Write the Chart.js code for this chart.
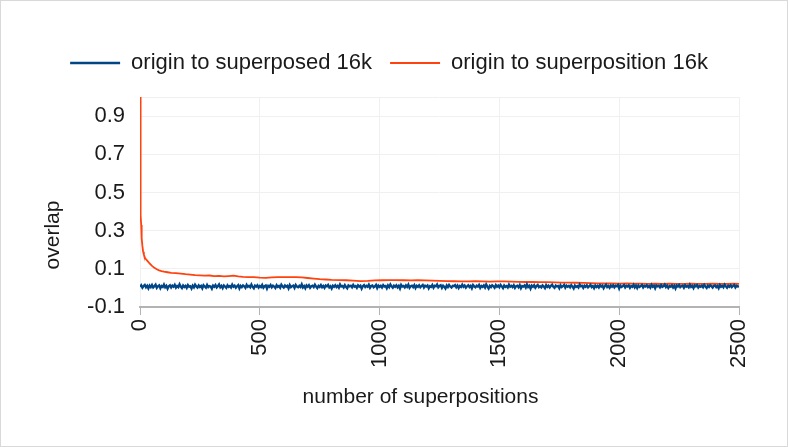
<!DOCTYPE html>
<html>
<head>
<meta charset="utf-8">
<script src="https://cdn.jsdelivr.net/npm/chart.js@4"></script>
<style>
html,body{margin:0;padding:0;background:#fff;}
#wrap{width:788px;height:447px;box-sizing:border-box;border:1px solid #d9d9d9;background:#fff;}
canvas{display:block;}
</style>
</head>
<body>
<div id="wrap"><canvas id="c" width="786" height="445"></canvas></div>
<script>
const seriesNames = ["origin to superposed 16k", "origin to superposition 16k"];
const xTitle = "number of superpositions";
const yTitle = "overlap";
const xTicks = [0, 500, 1000, 1500, 2000, 2500];
const yTicks = [-0.1, 0.1, 0.3, 0.5, 0.7, 0.9];

// series 1: sampled every 5 superpositions (0..2500)
const superposedStep = 5;
const superposedY = [
0.006,0.014,0.001,0.010,0.016,0.003,0.011,-0.003,0.012,0.004,
0.015,0.002,0.009,0.017,0.000,0.008,0.013,-0.002,0.010,0.005,
0.018,0.003,0.011,-0.004,0.009,0.014,0.002,0.012,0.006,0.016,
0.001,0.010,0.004,0.019,0.007,-0.001,0.013,0.005,0.011,0.000,
0.015,0.006,0.009,-0.003,0.012,0.003,0.017,0.008,0.002,0.013,
0.005,0.011,-0.002,0.014,0.007,0.001,0.016,0.004,0.010,0.008,
-0.004,0.012,0.006,0.015,0.002,0.009,0.018,0.003,0.011,-0.001,
0.013,0.007,0.000,0.014,0.005,0.010,0.002,0.017,0.006,0.012,
0.001,0.009,0.015,-0.003,0.011,0.004,0.013,0.008,0.000,0.016,
0.006,0.011,0.003,0.018,0.005,-0.002,0.012,0.007,0.014,0.002,
0.010,0.004,0.016,0.001,0.009,0.013,-0.004,0.011,0.006,0.015,
0.003,0.012,0.007,-0.001,0.014,0.005,0.010,0.001,0.017,0.008,
0.002,0.013,0.006,0.011,-0.003,0.015,0.004,0.009,0.012,0.000,
0.016,0.007,0.003,0.011,0.005,0.019,0.002,0.010,-0.002,0.013,
0.006,0.014,0.001,0.009,0.012,0.004,0.017,0.007,-0.001,0.011,
0.005,0.015,0.003,0.010,0.000,0.013,0.008,0.016,0.002,0.009,
-0.003,0.012,0.006,0.014,0.004,0.011,0.001,0.018,0.007,0.010,
0.002,0.015,0.005,-0.002,0.013,0.008,0.011,0.003,0.016,0.006,
0.010,0.000,0.014,0.007,0.012,-0.004,0.009,0.015,0.004,0.011,
0.006,0.017,0.001,0.010,0.013,0.003,0.008,0.016,-0.001,0.012,
0.005,0.011,0.002,0.015,0.007,0.010,-0.002,0.013,0.004,0.018,
0.008,0.001,0.012,0.006,0.014,0.003,0.011,-0.003,0.016,0.007,
0.010,0.002,0.013,0.005,0.017,0.000,0.009,0.012,0.004,0.015,
-0.001,0.011,0.006,0.014,0.003,0.010,0.016,0.002,0.012,0.007,
0.013,-0.002,0.009,0.005,0.015,0.001,0.011,0.008,0.018,0.003,
0.010,0.014,0.000,0.012,0.006,-0.003,0.013,0.004,0.016,0.007,
0.002,0.011,0.009,0.015,0.003,0.012,-0.001,0.010,0.005,0.017,
0.006,0.013,0.001,0.009,0.014,0.004,0.011,-0.002,0.015,0.008,
0.003,0.012,0.007,0.016,0.000,0.010,0.005,0.013,0.002,0.018,
0.007,-0.003,0.011,0.004,0.014,0.009,0.001,0.015,0.006,0.012,
0.003,0.016,0.008,-0.001,0.013,0.005,0.010,0.002,0.017,0.006,
0.011,0.004,0.014,0.000,0.009,0.012,0.003,0.015,-0.002,0.010,
0.007,0.013,0.002,0.018,0.005,0.011,-0.004,0.012,0.006,0.014,
0.001,0.010,0.016,0.004,0.009,0.003,0.013,0.007,-0.001,0.015,
0.005,0.012,0.002,0.011,0.017,0.006,0.000,0.013,0.008,0.010,
-0.002,0.014,0.004,0.009,0.016,0.001,0.012,0.006,0.011,0.003,
0.015,0.007,-0.003,0.013,0.005,0.010,0.002,0.018,0.008,0.011,
0.000,0.012,0.006,0.014,0.003,0.009,0.016,0.004,0.010,-0.001,
0.013,0.005,0.011,0.002,0.015,0.007,0.012,-0.002,0.009,0.017,
0.004,0.010,0.001,0.013,0.006,0.014,0.003,0.011,0.008,0.016,
-0.003,0.012,0.005,0.009,0.015,0.002,0.011,0.007,0.014,0.000,
0.010,0.006,0.017,0.003,0.012,-0.001,0.013,0.005,0.009,0.015,
0.002,0.011,0.007,0.014,0.004,0.010,0.001,0.016,0.006,0.012,
-0.002,0.013,0.008,0.011,0.003,0.015,0.005,0.009,0.018,0.004,
0.012,0.000,0.010,0.006,0.014,0.002,0.011,-0.003,0.013,0.007,
0.016,0.004,0.009,0.012,0.001,0.014,0.006,0.010,0.003,0.017,
0.005,0.011,-0.001,0.013,0.008,0.015,0.002,0.010,0.006,0.012,
0.003,0.016,0.007,0.000,0.012,0.005,0.014,0.009,0.002,0.011,
0.013,0.004,0.010,-0.002,0.015,0.006,0.011,0.003,0.017,0.008,
0.001,0.012,0.006,0.014,0.004,0.010,0.016,0.002,0.011,0.007,
0.009
];

// series 2
const superpositionX = [
0,1,2,3,4,5,6,8,10,13,
16,20,25,30,40,50,60,70,80,90,
100,115,130,150,170,190,210,230,250,270,
290,310,330,350,370,390,410,430,450,475,
500,525,550,575,600,625,650,675,700,725,
750,775,800,830,860,890,920,950,980,1010,
1040,1070,1100,1130,1160,1190,1220,1250,1280,1310,
1340,1370,1400,1430,1460,1490,1520,1550,1580,1610,
1640,1670,1700,1730,1760,1790,1820,1850,1880,1910,
1940,1970,2000,2030,2060,2090,2120,2150,2180,2210,
2240,2270,2300,2330,2360,2390,2420,2450,2480,2500
];
const superpositionY = [
1.0,0.75,0.55,0.45,0.38,0.33,0.30,0.26,0.22,0.19,
0.175,0.16,0.15,0.143,0.128,0.115,0.105,0.098,0.092,0.088,
0.085,0.082,0.079,0.077,0.075,0.072,0.070,0.067,0.066,0.064,
0.065,0.062,0.063,0.060,0.062,0.064,0.060,0.058,0.057,0.056,
0.054,0.053,0.055,0.056,0.057,0.056,0.057,0.055,0.052,0.049,
0.046,0.044,0.042,0.041,0.040,0.038,0.036,0.037,0.039,0.040,
0.041,0.041,0.040,0.039,0.040,0.039,0.038,0.037,0.036,0.035,
0.034,0.034,0.035,0.034,0.033,0.034,0.034,0.033,0.032,0.031,
0.031,0.030,0.030,0.029,0.028,0.028,0.027,0.026,0.025,0.024,
0.023,0.023,0.022,0.023,0.022,0.022,0.021,0.022,0.021,0.022,
0.021,0.021,0.022,0.021,0.021,0.022,0.021,0.021,0.022,0.021
];

const blueData = superposedY.map((y, i) => ({x: i * superposedStep, y: y}));
const orangeData = superpositionX.map((x, i) => ({x: x, y: superpositionY[i]}));

const FONT = "'Liberation Sans', Arial, sans-serif";
const TXT = '#1a1a1a';
const LEGEND_GAP = 13;
const LEGEND_SHIFT = 14;

const legendTweak = {
  id: 'legendTweak',
  beforeLayout(chart) {
    const lg = chart.legend;
    if (lg && !lg._gapPatched) {
      const orig = lg.fit;
      lg.fit = function () { orig.call(this); this.height += LEGEND_GAP; };
      lg._gapPatched = true;
    }
  },
  afterLayout(chart) {
    const lg = chart.legend;
    if (lg) { lg.left += LEGEND_SHIFT; lg.right += LEGEND_SHIFT; }
  }
};

// axis titles placed like the original (slightly off the plot centre)
const axisTitles = {
  id: 'axisTitles',
  afterDraw(chart) {
    const {ctx, chartArea: a} = chart;
    ctx.save();
    ctx.fillStyle = TXT;
    ctx.font = "21px " + FONT;
    ctx.textAlign = 'center';
    ctx.textBaseline = 'middle';
    ctx.fillText(xTitle, (a.left + a.right) / 2 - 19, a.bottom + 90);
    ctx.translate(52, (a.top + a.bottom) / 2 + 33);
    ctx.rotate(-Math.PI / 2);
    ctx.fillText(yTitle, 0, 0);
    ctx.restore();
  }
};

new Chart(document.getElementById('c'), {
  type: 'line',
  data: {
    datasets: [
      {label: seriesNames[0], data: blueData, borderColor: '#004586', backgroundColor: '#004586', borderWidth: 2.3, pointRadius: 0, pointStyle: 'line', tension: 0},
      {label: seriesNames[1], data: orangeData, borderColor: '#ff420e', backgroundColor: '#ff420e', borderWidth: 1.8, pointRadius: 0, pointStyle: 'line', tension: 0}
    ]
  },
  plugins: [legendTweak, axisTitles],
  options: {
    responsive: false,
    animation: false,
    devicePixelRatio: 1,
    layout: {padding: {left: 10, right: 48, top: 33, bottom: 10}},
    plugins: {
      tooltip: {enabled: false},
      legend: {
        position: 'top',
        labels: {
          usePointStyle: true, pointStyle: 'line', pointStyleWidth: 50,
          font: {family: FONT, size: 22}, color: TXT, padding: 18
        }
      }
    },
    scales: {
      x: {
        type: 'linear', min: 0, max: 2500,
        afterBuildTicks: s => { s.ticks = xTicks.map(v => ({value: v})); },
        afterFit: s => { s.height = 129; },
        ticks: {minRotation: 90, maxRotation: 90, font: {family: FONT, size: 22}, color: TXT, padding: 4,
          callback: v => String(v)},
        grid: {color: '#f0f0f0', tickColor: '#b3b3b3', tickLength: 8, lineWidth: 1},
        border: {color: '#b3b3b3', width: 2},
        title: {display: false, text: xTitle}
      },
      y: {
        type: 'linear', min: -0.1, max: 1.0,
        afterBuildTicks: s => { s.ticks = yTicks.concat([1.0]).map(v => ({value: v})); },
        afterFit: s => { s.width = 129; },
        ticks: {font: {family: FONT, size: 22}, color: TXT, padding: 15,
          callback: v => (Math.abs(v - 1) < 1e-9 ? '' : v.toFixed(1))},
        grid: {color: '#f0f0f0', drawTicks: false, lineWidth: 1},
        border: {display: false},
        title: {display: false, text: yTitle}
      }
    }
  }
});
</script>
</body>
</html>
